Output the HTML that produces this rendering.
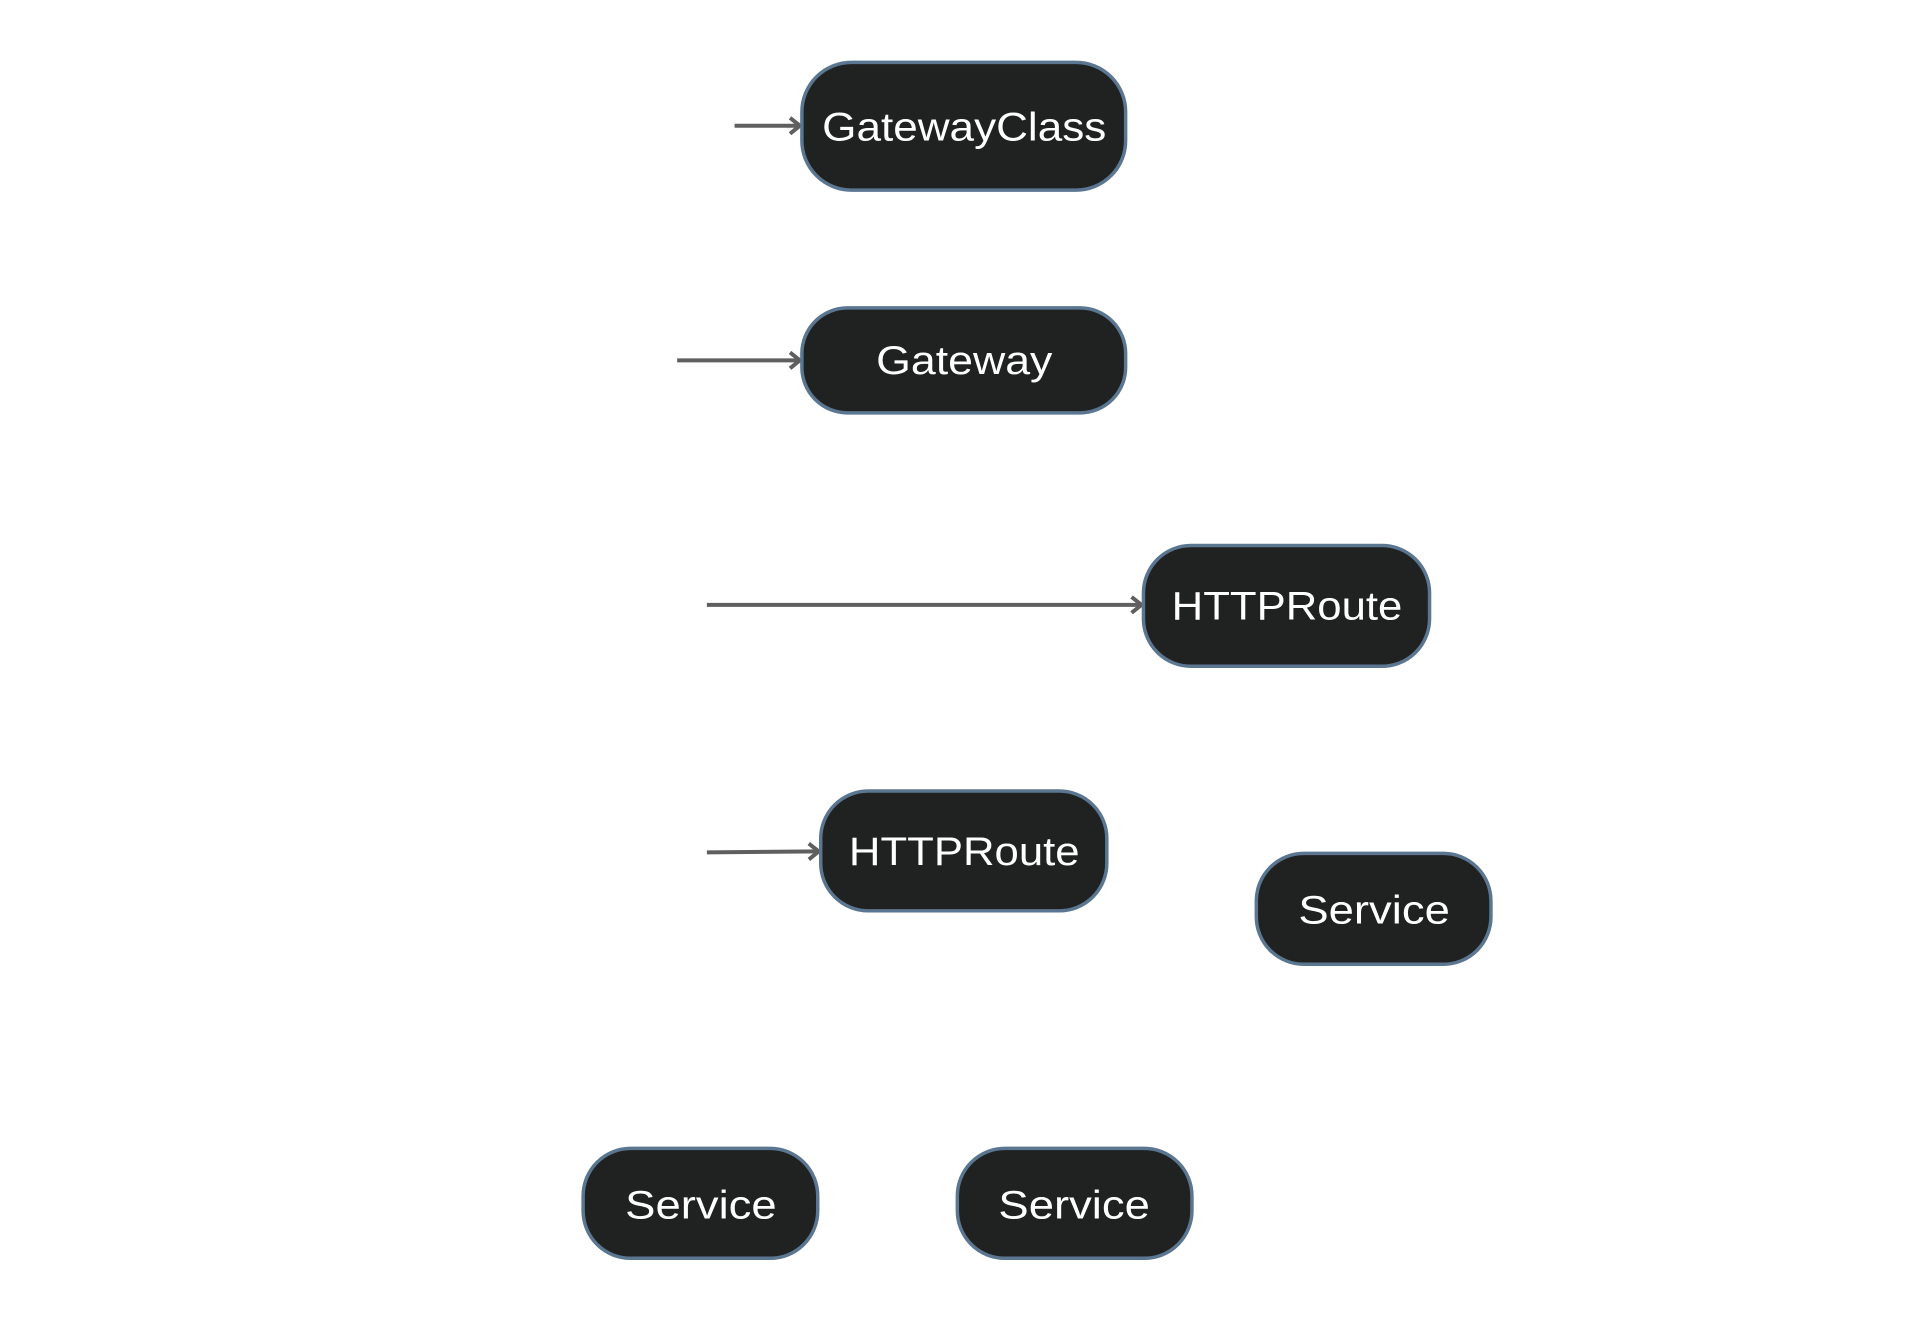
<!DOCTYPE html>
<html><head><meta charset="utf-8"><style>
html,body{margin:0;padding:0;background:#fff;}
svg{display:block;}
text{font-family:"Liberation Sans","DejaVu Sans",sans-serif;fill:#fff;font-size:40px;}
</style></head><body>
<svg width="1920" height="1323" viewBox="0 0 1920 1323" xmlns="http://www.w3.org/2000/svg">
<defs>
<marker id="a" markerWidth="16" markerHeight="20" refX="13" refY="10" orient="auto" markerUnits="userSpaceOnUse">
<path d="M3,2 L13,10 L3,18" fill="none" stroke="#5f5f5f" stroke-width="4"/>
</marker>
</defs>
<g transform="scale(0.99)">
<g stroke="#5f5f5f" stroke-width="4" fill="none" marker-end="url(#a)">
<line x1="742" y1="127" x2="808" y2="127"/>
<line x1="684" y1="364" x2="808" y2="364"/>
<line x1="714" y1="611" x2="1153" y2="611"/>
<line x1="714" y1="861" x2="827" y2="860"/>
</g>
<g fill="#202221" stroke="#5b7691" stroke-width="3.5">
<rect x="810" y="63" width="327" height="129" rx="50"/>
<rect x="810" y="311" width="327" height="106" rx="46"/>
<rect x="1155" y="551" width="289" height="122" rx="48"/>
<rect x="829" y="799" width="289" height="121" rx="48"/>
<rect x="1269" y="862" width="237" height="112" rx="48"/>
<rect x="589" y="1160" width="237" height="111" rx="48"/>
<rect x="967" y="1160" width="237" height="111" rx="48"/>
</g>
<text x="974" y="142" text-anchor="middle" textLength="287" lengthAdjust="spacingAndGlyphs">GatewayClass</text>
<text x="974" y="378" text-anchor="middle" textLength="178" lengthAdjust="spacingAndGlyphs">Gateway</text>
<text x="1300" y="626" text-anchor="middle" textLength="233" lengthAdjust="spacingAndGlyphs">HTTPRoute</text>
<text x="974" y="874" text-anchor="middle" textLength="233" lengthAdjust="spacingAndGlyphs">HTTPRoute</text>
<text x="1388" y="933" text-anchor="middle" textLength="153" lengthAdjust="spacingAndGlyphs">Service</text>
<text x="708" y="1231" text-anchor="middle" textLength="153" lengthAdjust="spacingAndGlyphs">Service</text>
<text x="1085" y="1231" text-anchor="middle" textLength="153" lengthAdjust="spacingAndGlyphs">Service</text>
</g>
</svg>
</body></html>
